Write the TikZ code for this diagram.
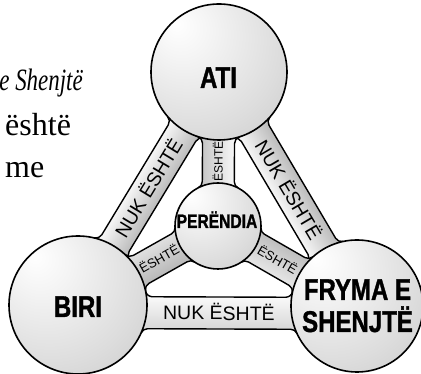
\documentclass[tikz,border=0pt]{standalone}
\usepackage{fontspec}
\setmainfont{Liberation Serif}
\newfontfamily\itfont[FakeStretch=0.74]{Liberation Serif}
\newfontfamily\labfont[FakeStretch=0.8,FakeBold=1.2]{Liberation Sans Bold}
\newfontfamily\barfont{Liberation Sans}
\pgfdeclareradialshading{spheresh}{\pgfpoint{-16bp}{18bp}}{color(0bp)=(white); color(10bp)=(gray!8); color(32bp)=(gray!27); color(50bp)=(gray!45); color(64bp)=(gray!64); color(76bp)=(gray!80)}
\def\hh{16}
\def\ff{7}
\newcommand\defsphere[4]{\expandafter\def\csname sp@#1@x\endcsname{#2}%
  \expandafter\def\csname sp@#1@y\endcsname{#3}%
  \expandafter\def\csname sp@#1@r\endcsname{#4}}
\newcommand\spx[1]{\csname sp@#1@x\endcsname}
\newcommand\spy[1]{\csname sp@#1@y\endcsname}
\newcommand\spr[1]{\csname sp@#1@r\endcsname}
% #1 from sphere, #2 to sphere, #3 axis offset, #4 shading, #5 label name, #6 label style, #7 label text
\newcommand\drawbar[7]{%
  \pgfmathsetmacro\Ax{\spx{#1}}\pgfmathsetmacro\Ay{\spy{#1}}\pgfmathsetmacro\RA{\spr{#1}}%
  \pgfmathsetmacro\Bx{\spx{#2}}\pgfmathsetmacro\By{\spy{#2}}\pgfmathsetmacro\RB{\spr{#2}}%
  \pgfmathsetmacro\bL{veclen(\Bx-\Ax,\By-\Ay)}%
  \pgfmathsetmacro\bAng{atan2(\By-\Ay,\Bx-\Ax)}%
  \pgfmathsetmacro\yt{#3+\hh}\pgfmathsetmacro\yb{#3-\hh}%
  \pgfmathsetmacro\yft{\yt+\ff}\pgfmathsetmacro\yfb{\yb-\ff}%
  \pgfmathsetmacro\xAt{sqrt((\RA+\ff)^2-(\yft)^2)}\pgfmathsetmacro\aAt{atan2(\yft,\xAt)}%
  \pgfmathsetmacro\xAb{sqrt((\RA+\ff)^2-(\yfb)^2)}\pgfmathsetmacro\aAb{atan2(\yfb,\xAb)}%
  \pgfmathsetmacro\xBt{sqrt((\RB+\ff)^2-(\yft)^2)}\pgfmathsetmacro\aBt{atan2(\yft,\xBt)}%
  \pgfmathsetmacro\xBb{sqrt((\RB+\ff)^2-(\yfb)^2)}\pgfmathsetmacro\aBb{atan2(\yfb,\xBb)}%
  \pgfmathsetmacro\kA{\RA/(\RA+\ff)}\pgfmathsetmacro\kB{\RB/(\RB+\ff)}%
  \pgfmathsetmacro\pAtx{\kA*\xAt}\pgfmathsetmacro\pAty{\kA*\yft}%
  \pgfmathsetmacro\pBbx{\bL-\kB*\xBb}\pgfmathsetmacro\pBby{\kB*\yfb}%
  \pgfmathsetmacro\sAt{\aAt-180}\pgfmathsetmacro\sBt{0-\aBt}%
  \pgfmathsetmacro\sBb{0-\aBb}\pgfmathsetmacro\sAb{\aAb+180}%
  \pgfmathsetmacro\qBt{\bL-\xBt}%
  \begin{scope}[transform canvas={shift={(\Ax,\Ay)},rotate=\bAng}]
    \path[barline,#4] (0,0) -- (\pAtx,\pAty)
      arc[start angle=\sAt,end angle=-90,radius=\ff]
      -- (\qBt,\yt) arc[start angle=-90,end angle=\sBt,radius=\ff]
      -- (\bL,0) -- (\pBbx,\pBby)
      arc[start angle=\sBb,end angle=90,radius=\ff]
      -- (\xAb,\yb) arc[start angle=90,end angle=\sAb,radius=\ff] -- cycle;
  \end{scope}
  \pgfmathsetmacro\bMid{(\RA+\bL-\RB)/2}%
  \pgfmathsetmacro\lx{\Ax+\bMid*cos(\bAng)-(#3)*sin(\bAng)}%
  \pgfmathsetmacro\ly{\Ay+\bMid*sin(\bAng)+(#3)*cos(\bAng)}%
  \node[#6,rotate=\bAng] (#5) at (\lx,\ly) {#7};
}
\tikzset{
  barline/.style={draw=black,line width=1.4pt,line join=round},
  sph/.style={circle,draw=black,line width=1.6pt,shading=spheresh,inner sep=0pt},
  biglab/.style={inner sep=0pt,anchor=center,text depth=0pt,text height=14pt,
    font=\barfont\fontsize{19.5}{19.5}\selectfont},
  midlab/.style={inner sep=0pt,anchor=center,text depth=0pt,text height=9.3pt,
    font=\barfont\fontsize{13}{13}\selectfont},
  smalllab/.style={inner sep=0pt,anchor=center,text depth=0pt,text height=8.6pt,
    font=\barfont\fontsize{12}{12}\selectfont},
  balllab/.style={inner sep=0pt,anchor=base,font=\labfont\fontsize{30}{30}\selectfont},
  perlab/.style={inner sep=0pt,anchor=base,font=\labfont\fontsize{19.5}{19.5}\selectfont},
  bodytext/.style={inner sep=0pt,font=\fontsize{32}{32}\selectfont}
}
\defsphere{ati}{219}{302}{68}
\defsphere{biri}{78}{69}{69}
\defsphere{fry}{357}{68}{66}
\defsphere{per}{218}{148}{43}
\begin{document}
\begin{tikzpicture}[x=1pt,y=1pt]
\useasboundingbox (0,0) rectangle (421,374);
% body text on the left
\node[inner sep=0pt,anchor=base east,font=\itfont\itshape\fontsize{31}{31}\selectfont] (t1) at (83,283) {e Shenjtë};
\node[bodytext,anchor=base west] (t2) at (5,238) {është};
\node[bodytext,anchor=base west] (t3) at (5,196) {me};
% bars
\drawbar{biri}{ati}{0}{top color=white,bottom color=gray!60}{l1}{biglab}{NUK ËSHTË}
\drawbar{ati}{fry}{0}{top color=gray!60,bottom color=white}{l2}{biglab}{NUK ËSHTË}
\drawbar{biri}{fry}{-7.5}{top color=white,bottom color=gray!35}{l3}{biglab}{NUK ËSHTË}
\drawbar{per}{ati}{0}{top color=gray!50,bottom color=white}{l4}{smalllab}{ËSHTË}
\drawbar{biri}{per}{0}{top color=gray!20,bottom color=gray!60}{l5}{midlab}{ËSHTË}
\drawbar{per}{fry}{0}{top color=gray!55,bottom color=gray!15}{l6}{midlab}{ËSHTË}
% spheres
\node[sph,minimum size={2*\spr{ati}}] (ati) at (\spx{ati},\spy{ati}) {};
\node[sph,minimum size={2*\spr{biri}}] (biri) at (\spx{biri},\spy{biri}) {};
\node[sph,minimum size={2*\spr{fry}}] (fry) at (\spx{fry},\spy{fry}) {};
\node[sph,minimum size={2*\spr{per}}] (per) at (\spx{per},\spy{per}) {};
% sphere labels
\node[balllab] (atilab) at (218.5,286) {ATI};
\node[balllab] (birilab) at (78,57) {BIRI};
\node[balllab] (frylab1) at (357.5,74) {FRYMA E};
\node[balllab] (frylab2) at (357.5,42) {SHENJTË};
\node[perlab] (perlab) at (217,146) {PERËNDIA};
\end{tikzpicture}
\end{document}
